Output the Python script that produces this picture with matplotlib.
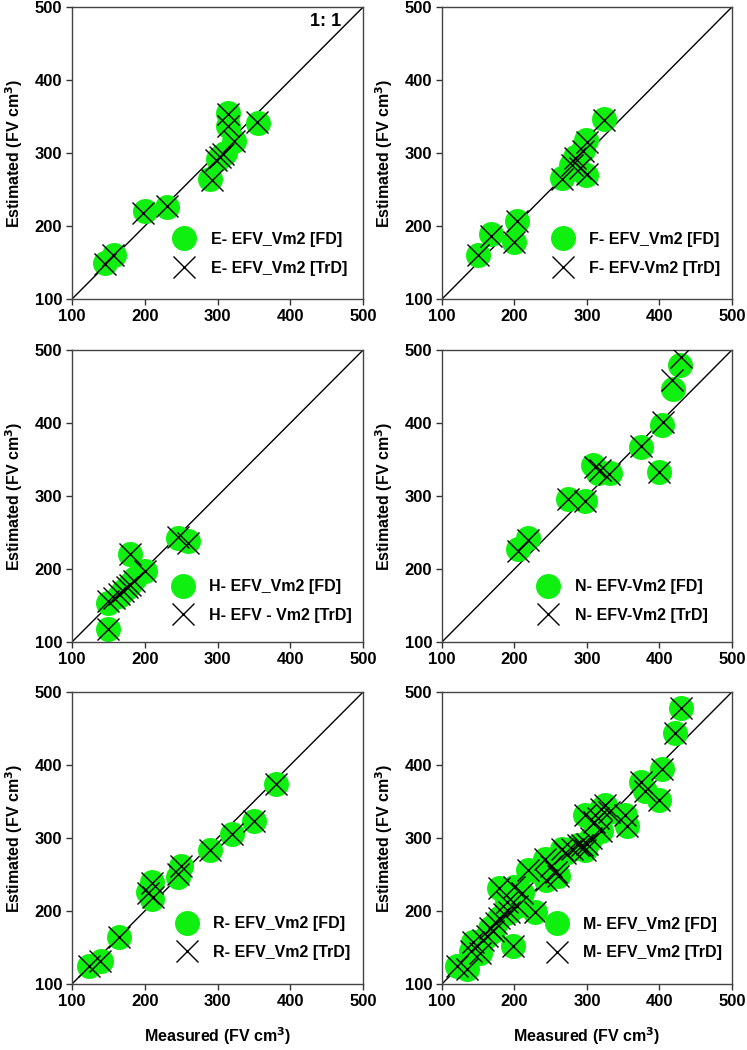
import matplotlib
matplotlib.use('Agg')
import matplotlib.pyplot as plt

plt.rcParams['font.family'] = ['Liberation Sans', 'DejaVu Sans']
plt.rcParams['font.weight'] = 'bold'
plt.rcParams['mathtext.default'] = 'bf'

# --- data (measured vs estimated, FV cm3) ---
E_meas_fd = [145, 158, 200, 230, 290, 300, 305, 310, 322, 315, 315, 355]
E_est_fd = [149, 160, 220, 226, 265, 292, 296, 300, 317, 337, 355, 341]
E_meas_tr = [145, 157, 198, 230, 292, 298, 303, 308, 322, 315, 315, 354]
E_est_tr = [148, 160, 218, 227, 263, 290, 294, 299, 316, 337, 353, 342]

F_meas_fd = [150, 168, 200, 204, 265, 278, 283, 288, 294, 299, 299, 324]
F_est_fd = [160, 189, 178, 207, 266, 283, 295, 278, 304, 318, 270, 347]
F_meas_tr = [150, 168, 200, 204, 266, 280, 283, 290, 294, 300, 300, 324]
F_est_tr = [160, 187, 178, 207, 265, 283, 293, 280, 303, 315, 272, 346]

H_meas_fd = [150, 150, 164, 170, 175, 180, 187, 180, 200, 246, 260]
H_est_fd = [118, 154, 163, 170, 174, 180, 188, 220, 197, 243, 238]
H_meas_tr = [150, 150, 158, 165, 170, 175, 180, 185, 180, 200, 246, 260]
H_est_tr = [118, 156, 160, 166, 170, 175, 178, 184, 220, 197, 244, 236]

N_meas_fd = [205, 218, 274, 298, 309, 315, 332, 374, 400, 403, 419, 429]
N_est_fd = [228, 242, 296, 293, 342, 331, 331, 367, 333, 397, 447, 479]
N_meas_tr = [205, 218, 274, 298, 311, 318, 330, 374, 400, 405, 417, 430]
N_est_tr = [225, 240, 296, 293, 340, 335, 330, 368, 333, 402, 459, 490]

R_meas_fd = [124, 140, 165, 204, 210, 210, 245, 250, 290, 320, 350, 380]
R_est_fd = [125, 132, 164, 226, 240, 217, 247, 262, 283, 306, 323, 374]
R_meas_tr = [124, 138, 165, 204, 210, 212, 245, 250, 290, 320, 350, 380]
R_est_tr = [125, 131, 164, 224, 238, 219, 250, 262, 283, 305, 323, 374]

M_meas_fd = [121, 135, 140, 143, 152, 157, 162, 166, 170, 174, 178, 185,
             178, 198, 200, 193, 203, 210, 218, 228, 190,
             242, 244, 250, 257, 260, 265, 270, 280, 288, 293, 297, 300,
             305, 298, 310, 315, 320, 325, 330, 320, 352, 355,
             375, 380, 400, 403, 421, 430]
M_est_fd = [125, 120, 145, 157, 142, 160, 166, 176, 172, 184, 190, 196,
            231, 152, 233, 199, 207, 225, 256, 199, 212,
            271, 242, 262, 253, 248, 285, 280, 285, 290, 290, 284, 292,
            300, 331, 322, 328, 340, 345, 336, 310, 332, 317,
            377, 365, 352, 395, 444, 478]
M_meas_tr = [121, 135, 140, 143, 152, 157, 162, 166, 170, 174, 178, 185,
             178, 198, 200, 193, 203, 210, 218, 228, 190,
             242, 244, 250, 257, 260, 265, 270, 280, 288, 293, 297, 300,
             305, 298, 310, 315, 320, 325, 330, 320, 352, 355,
             375, 380, 400, 403, 421, 430]
M_est_tr = [125, 120, 145, 157, 142, 160, 166, 176, 172, 184, 190, 196,
            231, 152, 233, 199, 207, 225, 256, 199, 212,
            271, 242, 262, 253, 248, 285, 280, 285, 290, 290, 284, 292,
            300, 331, 322, 328, 340, 345, 336, 310, 332, 317,
            377, 365, 352, 395, 444, 478]

panels = [
    ('E- EFV_Vm2 [FD]', 'E- EFV_Vm2 [TrD]', E_meas_fd, E_est_fd, E_meas_tr, E_est_tr),
    ('F- EFV_Vm2 [FD]', 'F- EFV-Vm2 [TrD]', F_meas_fd, F_est_fd, F_meas_tr, F_est_tr),
    ('H- EFV_Vm2 [FD]', 'H- EFV - Vm2 [TrD]', H_meas_fd, H_est_fd, H_meas_tr, H_est_tr),
    ('N- EFV-Vm2 [FD]', 'N- EFV-Vm2 [TrD]', N_meas_fd, N_est_fd, N_meas_tr, N_est_tr),
    ('R- EFV_Vm2 [FD]', 'R- EFV_Vm2 [TrD]', R_meas_fd, R_est_fd, R_meas_tr, R_est_tr),
    ('M- EFV_Vm2 [FD]', 'M- EFV_Vm2 [TrD]', M_meas_fd, M_est_fd, M_meas_tr, M_est_tr),
]
ticks = [100, 200, 300, 400, 500]

# axes boxes (fig fraction) and legend anchors (axes fraction)
lefts = [0.0964, 0.5917]
bottoms = [0.7152, 0.3886, 0.0629]
widths = [0.3896, 0.388]
leg_anchor = [(0.345, 0.155), (0.376, 0.155), (0.34, 0.14),
              (0.326, 0.14), (0.354, 0.157), (0.355, 0.155)]

fig = plt.figure(figsize=(7.47, 10.5), dpi=100)
green = '#10f010'
FS = 11.5

for i, (lab_fd, lab_tr, xf, yf, xt, yt) in enumerate(panels):
    row, col = divmod(i, 2)
    ax = fig.add_axes([lefts[col], bottoms[row], widths[col], 0.278])
    ax.plot(ticks, ticks, color='black', lw=1.0, zorder=1)
    ax.plot(xf, yf, 'o', ms=18, color=green, mec='none', label=lab_fd, zorder=2)
    ax.plot(xt, yt, 'x', ms=16, color='black', mew=1.0, label=lab_tr, zorder=3)
    ax.set_xlim(100, 500)
    ax.set_ylim(100, 500)
    ax.set_xticks(ticks)
    ax.set_yticks(ticks)
    ax.tick_params(direction='out', length=4, width=1, colors='#333333',
                   labelcolor='black', labelsize=12, pad=3)
    for lbl in ax.get_xticklabels() + ax.get_yticklabels():
        lbl.set_fontweight('bold')
    for sp in ax.spines.values():
        sp.set_color('#444444')
        sp.set_linewidth(1.0)
    ax.set_ylabel('Estimated (FV cm$^3$)', fontsize=FS,
                  fontweight='bold', labelpad=7)
    if row == 2:
        ax.set_xlabel('Measured (FV cm$^3$)', fontsize=FS,
                      fontweight='bold', labelpad=12)
    ax.legend(loc='center left', bbox_to_anchor=leg_anchor[i], frameon=False,
              prop={'weight': 'bold', 'size': FS}, borderpad=0,
              handlelength=1.5, handletextpad=0.9, labelspacing=0.85,
              borderaxespad=0)
    if i == 0:
        ax.text(0.87, 0.95, '1: 1', transform=ax.transAxes, fontsize=13,
                fontweight='bold', ha='center', va='center')

fig.savefig('out.png', dpi=100)
